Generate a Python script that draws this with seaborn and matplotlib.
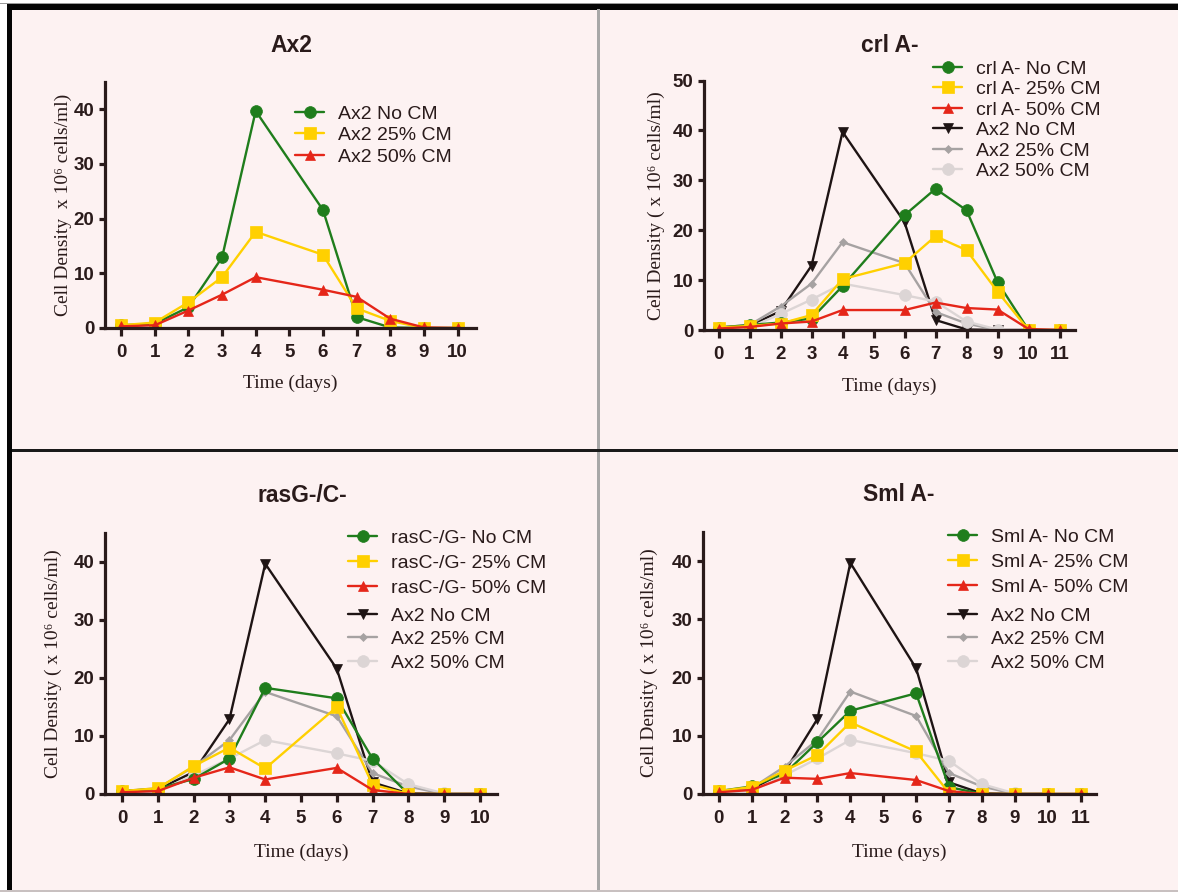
import numpy as np
import pandas as pd
import matplotlib
matplotlib.use("Agg")
import matplotlib.pyplot as plt
from matplotlib.patches import Rectangle
import seaborn as sns

sns.set_style("ticks")
plt.rcParams['font.family'] = ['Liberation Sans', 'DejaVu Sans']

# ---- data (cell density x 10^6 cells/ml) ----
days_ax2 = [0, 1, 2, 3, 4, 6, 7, 8, 9, 10]
ax2_no = [0.5, 0.8, 3.8, 12.9, 39.7, 21.6, 2.0, 0.1, 0.0, 0.0]
ax2_25 = [0.5, 1.0, 4.7, 9.3, 17.6, 13.4, 3.6, 1.3, 0.0, 0.0]
ax2_50 = [0.3, 0.5, 3.2, 6.1, 9.3, 7.0, 5.7, 1.7, 0.1, 0.0]

days_crl = [0, 1, 2, 3, 4, 6, 7, 8, 9, 10, 11]
crl_no = [0.5, 1.0, 1.5, 2.3, 8.8, 23.0, 28.3, 24.0, 9.6, 0.0, 0.0]
crl_25 = [0.5, 0.8, 1.3, 3.0, 10.2, 13.4, 18.8, 16.0, 7.7, 0.0, 0.0]
crl_50 = [0.3, 0.6, 1.3, 1.7, 4.0, 4.0, 5.5, 4.4, 4.1, 0.2, 0.0]

days_ras = [0, 1, 2, 3, 4, 6, 7, 8, 9, 10]
ras_no = [0.5, 0.9, 2.6, 6.1, 18.3, 16.5, 6.1, 0.0, 0.0, 0.0]
ras_25 = [0.5, 1.0, 4.8, 8.0, 4.4, 15.0, 1.6, 0.0, 0.0, 0.0]
ras_50 = [0.3, 0.5, 2.8, 4.6, 2.5, 4.5, 0.7, 0.0, 0.0, 0.0]

days_sml = [0, 1, 2, 3, 4, 6, 7, 8, 9, 10, 11]
sml_no = [0.5, 1.3, 3.5, 8.9, 14.3, 17.3, 1.2, 0.0, 0.0, 0.0, 0.0]
sml_25 = [0.5, 1.2, 4.0, 6.7, 12.3, 7.3, 0.2, 0.0, 0.0, 0.0, 0.0]
sml_50 = [0.3, 0.7, 2.8, 2.6, 3.6, 2.4, 0.5, 0.0, 0.0, 0.0, 0.0]

conditions = ['No CM', '25% CM', '50% CM']

# ---- styles ----
W, H = 1178, 892
BG = '#fdf2f2'
INK = '#2a1b1b'
GREEN, YELLOW, RED = '#1f7d1c', '#ffd000', '#e52619'
BLACK, GRAY, LGRAY = '#1e1414', '#a6a2a2', '#dcd5d5'
SERIF = ['Liberation Serif', 'DejaVu Serif']

mutant_style = [dict(color=GREEN, marker='o', markersize=8.5),
                dict(color=YELLOW, marker='s', markersize=8),
                dict(color=RED, marker='^', markersize=7.5)]
ref_style = [dict(color=BLACK, marker='v', markersize=7.5),
             dict(color=GRAY, marker='D', markersize=4.5),
             dict(color=LGRAY, marker='o', markersize=8.5)]

fig = plt.figure(figsize=(W / 100, H / 100), dpi=100, facecolor=BG)


def px_rect(x0, y0, x1, y1, color):
    fig.add_artist(Rectangle((x0 / W, 1 - y1 / H), (x1 - x0) / W, (y1 - y0) / H,
                             transform=fig.transFigure, facecolor=color,
                             edgecolor='none', zorder=0))


def px_axes(l, r, t, b):
    ax = fig.add_axes([l / W, 1 - b / H, (r - l) / W, (b - t) / H])
    ax.set_facecolor('none')
    return ax


# frame lines of the figure
px_rect(0, 0, 7, H, 'white')
px_rect(0, 0, W, 3, 'white')
px_rect(0, 2.5, W, 4, '#9a9a9a')
px_rect(7, 4, W, 9.5, '#050505')
px_rect(7, 4, 12, H, '#050505')
px_rect(596.5, 9, 599.5, H, '#a8a8a8')
px_rect(12, 449, W, 451.5, '#1a1a1a')
px_rect(0, 890, W, H, '#c8c0c0')


def draw_panel(ax, days, series, styles, labels, zbase):
    for vals, st, lab in zip(series, styles, labels):
        sns.lineplot(x=days, y=vals, ax=ax, color=st['color'], marker=st['marker'],
                     markersize=st['markersize'], markeredgecolor=st['color'],
                     markeredgewidth=0.5, linewidth=1.7, label=lab, zorder=zbase)


def style_axes(ax, xmax_tick, xlim, ylim, yticks, ylabel, label_x):
    ax.set_xlim(*xlim)
    ax.set_ylim(*ylim)
    ax.set_xticks(range(0, xmax_tick + 1))
    ax.set_yticks(yticks)
    for s in ['top', 'right']:
        ax.spines[s].set_visible(False)
    for s in ['left', 'bottom']:
        ax.spines[s].set_linewidth(2.3)
        ax.spines[s].set_color(INK)
        ax.spines[s].set_zorder(5)
    ax.tick_params(axis='both', colors=INK, width=2.3, labelsize=13.5)
    ax.tick_params(axis='x', length=6, pad=5.5)
    ax.tick_params(axis='y', length=4.5, pad=3)
    for t in ax.get_xticklabels() + ax.get_yticklabels():
        t.set_fontweight('bold')
    ax.set_xlabel('Time (days)', family=SERIF, fontsize=14, color=INK)
    ax.xaxis.set_label_coords(0.5, -0.19)
    ax.set_ylabel(ylabel, family=SERIF, fontsize=14, color=INK)
    ax.yaxis.set_label_coords(label_x, 0.5)


def add_legend(ax, handles, labels, x, y, spacing):
    leg = ax.legend(handles, labels, loc='upper left',
                    bbox_to_anchor=(x / W, 1 - y / H), bbox_transform=fig.transFigure,
                    frameon=False, fontsize=14, handlelength=1.5, handletextpad=0.7,
                    borderpad=0, borderaxespad=0, labelspacing=spacing,
                    labelcolor=INK)
    return leg


def add_title(x, y, text):
    fig.text(x / W, 1 - y / H, text, ha='center', va='center', fontsize=16.5,
             fontweight='bold', color=INK)


# ---- panel 1: Ax2 ----
ax1 = px_axes(105, 476, 82, 328)
draw_panel(ax1, days_ax2, [ax2_no, ax2_25, ax2_50], mutant_style,
           ['Ax2 ' + c for c in conditions], 3)
style_axes(ax1, 10, (-0.48, 10.55), (0, 45), [0, 10, 20, 30, 40],
           'Cell Density  x 10⁶ cells/ml)', -0.09)
h, l = ax1.get_legend_handles_labels()
add_legend(ax1, h, l, 295, 105, 0.2)
add_title(291, 45, 'Ax2')

# ---- panel 2: crl A- ----
ax2 = px_axes(704, 1075, 80.5, 330)
draw_panel(ax2, days_crl, [crl_no, crl_25, crl_50], mutant_style,
           ['crl A- ' + c for c in conditions], 3)
draw_panel(ax2, days_ax2, [ax2_no, ax2_25, ax2_50], ref_style,
           ['Ax2 ' + c for c in conditions], 2)
style_axes(ax2, 11, (-0.47, 11.5), (0, 50), [0, 10, 20, 30, 40, 50],
           'Cell Density ( x 10⁶ cells/ml)', -0.105)
h, l = ax2.get_legend_handles_labels()
add_legend(ax2, h, l, 933, 60, 0.15)
add_title(890, 45, 'crl A-')

# ---- panel 3: rasG-/C- ----
ax3 = px_axes(105, 497, 533, 794)
draw_panel(ax3, days_ras, [ras_no, ras_25, ras_50], mutant_style,
           ['rasC-/G- ' + c for c in conditions], 3)
draw_panel(ax3, days_ax2, [ax2_no, ax2_25, ax2_50], ref_style,
           ['Ax2 ' + c for c in conditions], 2)
style_axes(ax3, 10, (-0.48, 10.48), (0, 45), [0, 10, 20, 30, 40],
           'Cell Density ( x 10⁶ cells/ml)', -0.11)
h, l = ax3.get_legend_handles_labels()
leg = add_legend(ax3, h[:3], l[:3], 348, 529, 0.38)
ax3.add_artist(leg)
add_legend(ax3, h[3:], l[3:], 348, 607, 0.3)
add_title(302, 495, 'rasG-/C-')

# ---- panel 4: Sml A- ----
ax4 = px_axes(703, 1096, 532, 794)
draw_panel(ax4, days_sml, [sml_no, sml_25, sml_50], mutant_style,
           ['Sml A- ' + c for c in conditions], 3)
draw_panel(ax4, days_ax2, [ax2_no, ax2_25, ax2_50], ref_style,
           ['Ax2 ' + c for c in conditions], 2)
style_axes(ax4, 11, (-0.48, 11.47), (0, 45), [0, 10, 20, 30, 40],
           'Cell Density ( x 10⁶ cells/ml)', -0.115)
h, l = ax4.get_legend_handles_labels()
leg = add_legend(ax4, h[:3], l[:3], 948, 528, 0.38)
ax4.add_artist(leg)
add_legend(ax4, h[3:], l[3:], 948, 607, 0.3)
add_title(899, 494, 'Sml A-')

fig.savefig('out.png', dpi=100, facecolor=BG)
